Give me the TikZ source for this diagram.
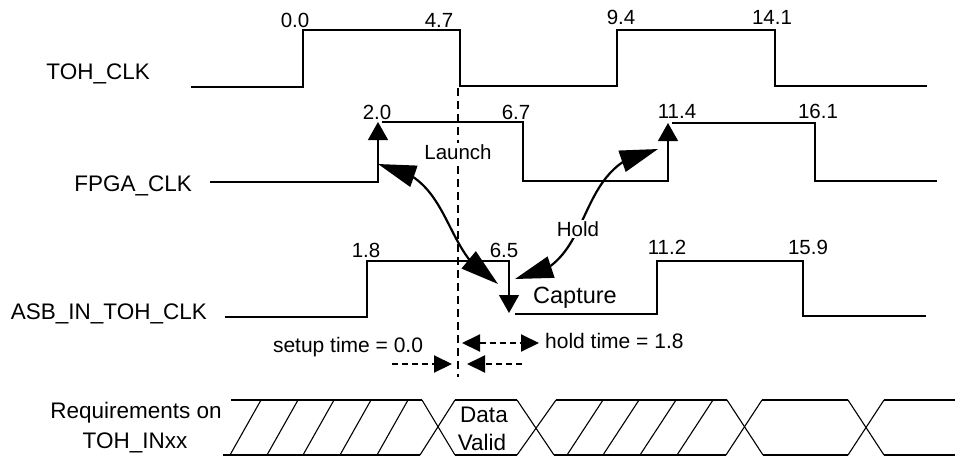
\documentclass[tikz,border=0pt]{standalone}
\usepackage{fontspec}
\setmainfont{Liberation Sans}
\usetikzlibrary{arrows.meta,bending}
\begin{document}
\begin{tikzpicture}[x=1pt,y=-1pt,
  sig/.style={line width=1.3pt},
  bus/.style={line width=1.1pt},
  signame/.style={font=\fontsize{22.5}{27}\selectfont, inner sep=0pt, anchor=base east},
  buslbl/.style={font=\fontsize{22.5}{27}\selectfont, inner sep=0pt, anchor=base},
  num/.style={font=\fontsize{20.5}{24}\selectfont, inner sep=0pt, anchor=base},
  note/.style={font=\fontsize{20.5}{24}\selectfont, inner sep=1.5pt, anchor=base, fill=white},
  edgetip/.style={-{Triangle[length=18pt,width=20pt]}},
  bigarrow/.style={line width=2.2pt, {Triangle[length=38pt,width=22pt]}-{Triangle[length=38pt,width=22pt]}},
  timearrow/.style={line width=2pt, dash pattern=on 6pt off 4pt},
  ttip/.style={-{Triangle[length=18pt,width=17pt]}},
  tboth/.style={{Triangle[length=18pt,width=17pt]}-{Triangle[length=18pt,width=17pt]}},
  refline/.style={line width=2.5pt, dash pattern=on 8pt off 5pt}
]
\useasboundingbox (0,0) rectangle (955,458);

% ---- signal names
\node[signame] (ntoh) at (150,79) {TOH\_CLK};
\node[signame] (nfpga) at (192,191) {FPGA\_CLK};
\node[signame] (nasb) at (207,319) {ASB\_IN\_TOH\_CLK};
\node[buslbl] (nreq1) at (136,418) {Requirements on};
\node[buslbl] (nreq2) at (135,448) {TOH\_INxx};

% ---- TOH_CLK
\draw[sig] (191,87) -- (303,87) -- (303,30) -- (460,30) -- (460,86) -- (617,86)
  -- (617,30) -- (775,30) -- (775,86) -- (927,86);
\node[num] (t00) at (295,27) {0.0};
\node[num] (t47) at (439,27) {4.7};
\node[num] (t94) at (621,24) {9.4};
\node[num] (t141) at (772,24) {14.1};

% ---- FPGA_CLK
\draw[sig,edgetip] (210,182) -- (378,182) -- (378,122);
\draw[sig,edgetip] (382,122) -- (523,122) -- (523,181) -- (668,181) -- (668,123);
\draw[sig] (672,123) -- (815,123) -- (815,181) -- (937,181);
\node[num] (f20) at (377,119) {2.0};
\node[num] (f67) at (516,119) {6.7};
\node[num] (f114) at (677,118) {11.4};
\node[num] (f161) at (818,118) {16.1};

% ---- ASB_IN_TOH_CLK
\draw[sig,edgetip] (225,317) -- (367,317) -- (367,261) -- (509,261) -- (509,313);
\draw[sig] (515,314) -- (657,314) -- (657,261) -- (803,261) -- (803,316) -- (926,316);
\node[num] (a18) at (366,257) {1.8};
\node[num] (a65) at (504,257) {6.5};
\node[num] (a112) at (667,254) {11.2};
\node[num] (a159) at (808,254) {15.9};

% ---- reference dashed line
\coordinate (vtop) at (458,88);
\coordinate (vbot) at (458,377);
\draw[refline] (vtop) -- (vbot);
\node[note] (launch) at (458,159) {Launch};

% ---- launch / hold arrows
\coordinate (lA) at (378,164);
\coordinate (lB) at (498,284);
\draw[bigarrow] (lA) .. controls (455,175) and (440,255) .. (lB);
\coordinate (hA) at (658,149);
\coordinate (hB) at (515,279);
\draw[bigarrow] (hB) .. controls (600,270) and (568,162) .. (hA);
\node[note] (hold) at (578,236) {Hold};
\node[num, font=\fontsize{23.5}{28}\selectfont] (capture) at (575,303) {Capture};

% ---- setup / hold time
\node[num, font=\fontsize{21}{25}\selectfont] (setup) at (348,352) {setup time = 0.0};
\node[num, font=\fontsize{21}{25}\selectfont, anchor=base west] (holdt) at (545,348) {hold time = 1.8};
\coordinate (ht1) at (462,343);
\coordinate (ht2) at (539,343);
\draw[timearrow,tboth] (ht1) -- (ht2);
\coordinate (s1) at (392,364);
\coordinate (s2) at (452,364);
\draw[timearrow,ttip] (s1) -- (s2);
\coordinate (s3) at (522,364);
\coordinate (s4) at (467,364);
\draw[timearrow,ttip] (s3) -- (s4);

% ---- data bus
% segment 1 (hatched)
\draw[bus] (231,400) -- (422,400);
\draw[bus] (223,455) -- (420,455);
\foreach \b in {230,267,303,340,377}
  \draw[bus] (\b,455) -- (\b+31,400);
% crossing 1
\draw[bus] (422,400) -- (455,455);
\draw[bus] (420,455) -- (455,400);
% data valid
\draw[bus] (455,400) -- (517,400);
\draw[bus] (455,455) -- (517,455);
\node[buslbl] (dv1) at (484,422) {Data};
\node[buslbl] (dv2) at (482,450) {Valid};
% crossing 2
\draw[bus] (517,400) -- (554,455);
\draw[bus] (517,455) -- (556,400);
% segment 3 (hatched)
\draw[bus] (556,400) -- (727,400);
\draw[bus] (554,455) -- (726,455);
\foreach \b in {567,603,640,677}
  \draw[bus] (\b,455) -- (\b+36,400);
% crossing 3
\draw[bus] (727,400) -- (763,455);
\draw[bus] (726,455) -- (762,400);
% segment 4
\draw[bus] (762,400) -- (848,400);
\draw[bus] (763,455) -- (848,455);
% crossing 4
\draw[bus] (848,400) -- (884,455);
\draw[bus] (848,455) -- (884,400);
% segment 5
\draw[bus] (884,400) -- (955,400);
\draw[bus] (884,455) -- (955,455);
\end{tikzpicture}
\end{document}
